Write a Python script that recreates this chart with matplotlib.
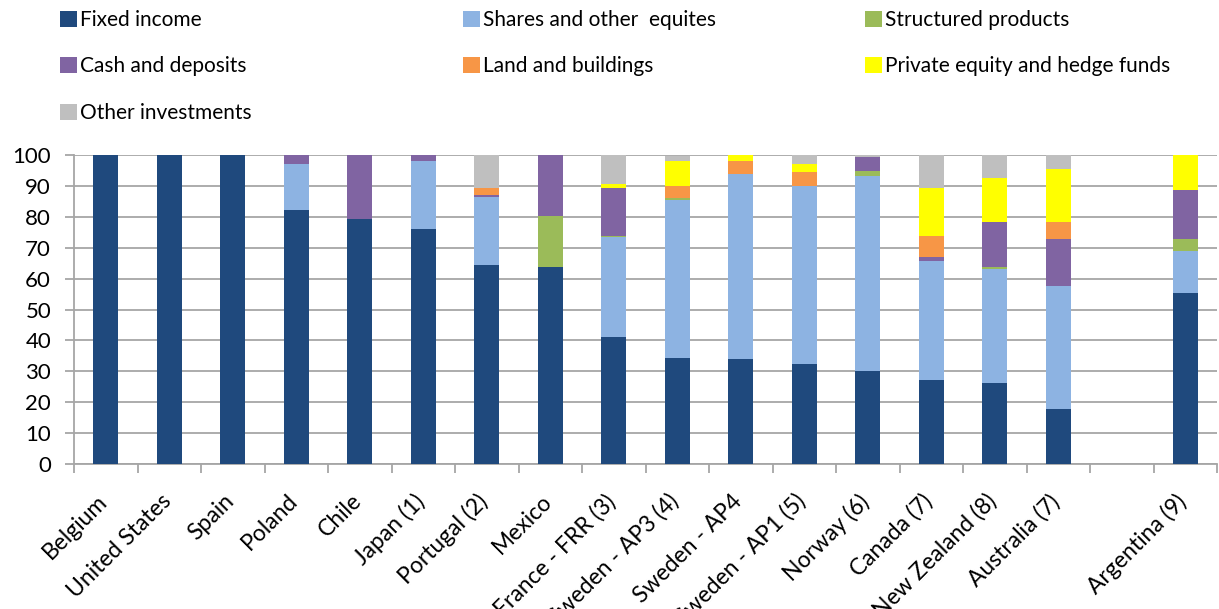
import matplotlib
matplotlib.use("Agg")
import matplotlib.pyplot as plt
from matplotlib.patches import Patch
from matplotlib.ticker import FixedLocator
import numpy as np

plt.rcParams['font.family'] = ['Lato', 'DejaVu Sans']

categories = ["Belgium", "United States", "Spain", "Poland", "Chile", "Japan (1)",
              "Portugal (2)", "Mexico", "France - FRR (3)", "Sweden - AP3 (4)",
              "Sweden - AP4", "Sweden - AP1 (5)", "Norway (6)", "Canada (7)",
              "New Zealand (8)", "Australia (7)", "", "Argentina (9)"]

fixed_income = [100, 100, 100, 82.2, 79.2, 76.0, 64.3, 63.8, 41.0, 34.3, 33.9, 32.4, 30.0, 27.2, 26.1, 17.8, 0, 55.4]
shares       = [0, 0, 0, 14.8, 0, 22.2, 22.0, 0, 32.4, 51.2, 59.9, 57.6, 63.2, 38.6, 37.1, 39.8, 0, 13.4]
structured   = [0, 0, 0, 0, 0, 0, 0, 16.5, 0.3, 0.5, 0, 0, 1.7, 0, 0.5, 0, 0, 3.9]
cash         = [0, 0, 0, 3.0, 20.8, 1.8, 0.7, 19.7, 15.5, 0, 0, 0, 4.6, 1.1, 14.6, 15.1, 0, 16.0]
land         = [0, 0, 0, 0, 0, 0, 2.4, 0, 0, 4.1, 4.4, 4.4, 0, 6.9, 0, 5.6, 0, 0]
private_eq   = [0, 0, 0, 0, 0, 0, 0, 0, 1.3, 7.9, 1.8, 2.7, 0, 15.4, 14.1, 17.3, 0, 11.3]
other        = [0, 0, 0, 0, 0, 0, 10.6, 0, 9.5, 1.8, 0, 2.9, 0.5, 10.8, 7.6, 4.4, 0, 0]

series_names = ["Fixed income", "Shares and other  equites", "Structured products",
                "Cash and deposits", "Land and buildings", "Private equity and hedge funds",
                "Other investments"]
series_values = [fixed_income, shares, structured, cash, land, private_eq, other]
series_colors = ["#1F497D", "#8DB3E2", "#9BBB59", "#8064A2", "#F79646", "#FFFF00", "#BFBFBF"]

y_ticks = list(range(0, 101, 10))

W, H = 1219, 609
fig = plt.figure(figsize=(W / 100, H / 100), dpi=100)
ax = fig.add_axes([74 / W, 1 - 464 / H, (1217 - 74) / W, (464 - 155) / H])

x = np.arange(len(categories))
bottom = np.zeros(len(categories))
for name, vals, col in zip(series_names, series_values, series_colors):
    v = np.array(vals, dtype=float)
    ax.bar(x, v, width=0.39, bottom=bottom, color=col, edgecolor='none', zorder=3)
    bottom += v

grid_col = "#A6A6A6"
ax.set_xlim(-0.5, len(categories) - 0.5)
ax.set_ylim(0, 100)
ax.set_yticks(y_ticks)
ax.yaxis.grid(True, color=grid_col, linewidth=1.3, zorder=0)
ax.set_axisbelow(True)
for s in ["top", "right"]:
    ax.spines[s].set_visible(False)
for s in ["left", "bottom"]:
    ax.spines[s].set_color(grid_col)
    ax.spines[s].set_linewidth(1.3)

# label anchors sit slightly right of bar centres, as in the reference
ax.set_xticks(x + 0.09)
ax.set_xticklabels(categories, rotation=45, ha='right', fontsize=16.5)
ax.xaxis.set_minor_locator(FixedLocator(np.arange(-0.5, len(categories), 1.0)))
ax.tick_params(axis='x', which='major', length=0, pad=19)
ax.tick_params(axis='x', which='minor', length=6.5, width=1.3, color=grid_col, direction='out')
ax.tick_params(axis='y', which='major', length=6.5, width=1.3, color=grid_col, pad=10, labelsize=16)

# legend: three columns laid out row-major
handles = [Patch(facecolor=c, edgecolor='none') for c in series_colors]
cols = [[0, 3, 6], [1, 4], [2, 5]]
col_x = [60, 463, 865]
for cx, idxs in zip(col_x, cols):
    fig.legend([handles[i] for i in idxs], [series_names[i] for i in idxs],
               loc='upper left', bbox_to_anchor=(cx / W, 1 - 10 / H),
               frameon=False, fontsize=15, borderpad=0, borderaxespad=0,
               handlelength=0.82, handleheight=0.82, handletextpad=0.15,
               labelspacing=1.27)

fig.savefig("out.png", dpi=100)
